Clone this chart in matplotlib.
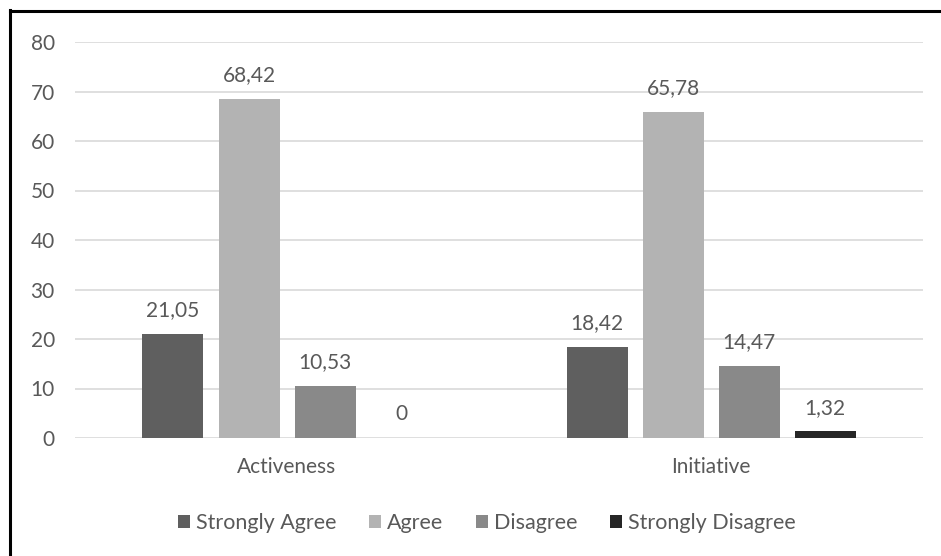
import numpy as np
import matplotlib.pyplot as plt
from matplotlib.lines import Line2D

categories = ['Activeness', 'Initiative']
series_names = ['Strongly Agree', 'Agree', 'Disagree', 'Strongly Disagree']
strongly_agree = [21.05, 18.42]
agree = [68.42, 65.78]
disagree = [10.53, 14.47]
strongly_disagree = [0, 1.32]
yticks = [0, 10, 20, 30, 40, 50, 60, 70, 80]

colors = ['#5f5f5f', '#b3b3b3', '#898989', '#262626']
text_color = '#595959'

plt.rcParams['font.family'] = ['Lato', 'DejaVu Sans']

fig = plt.figure(figsize=(9.41, 5.56), dpi=100)
ax = fig.add_axes([75 / 941, 1 - 438 / 556, 848 / 941, 396 / 556])

x = np.arange(len(categories))
slot = 76 / 424
width = 61 / 424
values = [strongly_agree, agree, disagree, strongly_disagree]
for i, (name, vals, c) in enumerate(zip(series_names, values, colors)):
    pos = x + (i - 1.5) * slot
    bars = ax.bar(pos, vals, width, color=c, label=name, zorder=3)
    for b, v in zip(bars, vals):
        ax.text(b.get_x() + b.get_width() / 2, v + 3.6, f'{v:g}'.replace('.', ','),
                ha='center', va='baseline', fontsize=15, color=text_color)

ax.set_xlim(-0.5, 1.5)
ax.set_ylim(0, 80)
ax.set_yticks(yticks)
ax.set_xticks(x)
ax.set_xticklabels(categories)
ax.grid(axis='y', color='#d9d9d9', linewidth=1.2, zorder=0)
for s in ax.spines.values():
    s.set_visible(False)
ax.tick_params(length=0, labelsize=15, labelcolor=text_color)
ax.tick_params(axis='y', pad=14.5)
ax.tick_params(axis='x', pad=14)

leg = fig.legend(loc='center', bbox_to_anchor=(487 / 941, 1 - 523 / 556), ncol=4,
                 frameon=False, fontsize=15.5, handlelength=0.55, handleheight=0.55,
                 handletextpad=0.3, columnspacing=1.5)
for t in leg.get_texts():
    t.set_color(text_color)

# outer frame, top and left edges only
fig.add_artist(Line2D([10 / 941, 10 / 941], [0, 1 - 10 / 556], color='black', linewidth=2.2))
fig.add_artist(Line2D([10 / 941, 1], [1 - 11 / 556, 1 - 11 / 556], color='black', linewidth=2.2))

fig.savefig('out.png', dpi=100)
